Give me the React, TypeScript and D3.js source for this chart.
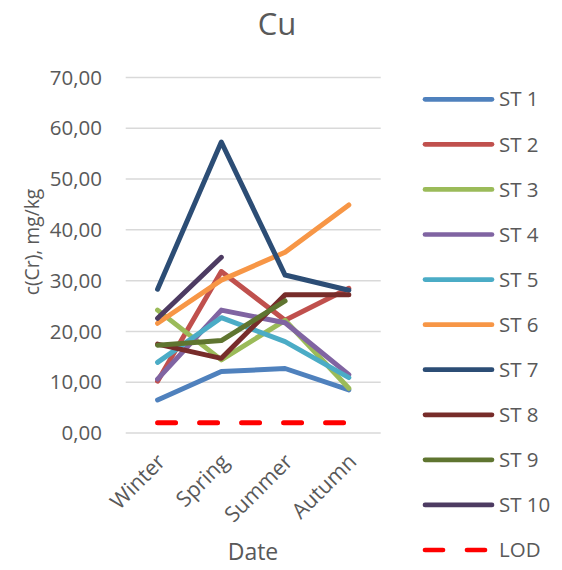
import React from "react";
import * as d3 from "d3";

const categories = ["Winter", "Spring", "Summer", "Autumn"];
const seriesNames = ["ST 1", "ST 2", "ST 3", "ST 4", "ST 5", "ST 6", "ST 7", "ST 8", "ST 9", "ST 10"];
const st1 = [6.5, 12.1, 12.7, 8.5];
const st2 = [10.2, 31.8, 22.2, 28.5];
const st3 = [24.2, 14.4, 22.2, 8.8];
const st4 = [10.6, 24.2, 21.7, 11.5];
const st5 = [13.9, 22.7, 18.0, 10.9];
const st6 = [21.6, 30.1, 35.6, 44.9];
const st7 = [28.3, 57.3, 31.1, 28.1];
const st8 = [17.5, 14.7, 27.2, 27.2];
const st9 = [17.3, 18.2, 26.0, null];
const st10 = [22.6, 34.6, null, null];
const lod = [2, 2, 2, 2];
const yTicks = [0, 10, 20, 30, 40, 50, 60, 70];
const colors = ["#4F81BD", "#C0504D", "#9BBB59", "#8064A2", "#4BACC6", "#F79646", "#2C4D75", "#772C2A", "#5F7530", "#4D3B62"];

const FONT = "'Open Sans', sans-serif";
const TXT = "#595959";

export default function App() {
  const left = 125.7, right = 380.7, top = 77.5, bottom = 433;
  const x = d3.scaleBand<string>().domain(categories).range([left, right]);
  const y = d3.scaleLinear().domain([0, 70]).range([bottom, top]);
  const cx = (c: string) => (x(c) as number) + x.bandwidth() / 2;
  const line = d3
    .line<number | null>()
    .defined((d) => d !== null)
    .x((_, i) => cx(categories[i]))
    .y((d) => y(d as number));
  const all = [st1, st2, st3, st4, st5, st6, st7, st8, st9, st10];
  const legX1 = 425, legX2 = 492, legY0 = 99.3, legStep = 45.07;
  return (
    <svg width={562} height={570} style={{ position: "absolute", left: 0, top: 0, background: "#fff" }}>
      <text x={277} y={35} textAnchor="middle" fontFamily={FONT} fontSize={31} fill={TXT}>Cu</text>
      {yTicks.map((t) => (
        <g key={t}>
          <line x1={left} x2={right} y1={y(t)} y2={y(t)} stroke="#d9d9d9" strokeWidth={1.5} />
          <text x={102} y={y(t)} dy="0.35em" textAnchor="end" fontFamily={FONT} fontSize={20.5} fill={TXT}>
            {d3.format(".2f")(t).replace(".", ",")}
          </text>
        </g>
      ))}
      <text transform={`translate(39,242) rotate(-90)`} textAnchor="middle" fontFamily={FONT} fontSize={19.3} fill={TXT}>c(Cr), mg/kg</text>
      {categories.map((c) => (
        <text key={c} transform={`translate(${cx(c) + 9},463) rotate(-45)`} textAnchor="end" fontFamily={FONT} fontSize={21.5} fill={TXT}>{c}</text>
      ))}
      <text x={253} y={560} textAnchor="middle" fontFamily={FONT} fontSize={23} fill={TXT}>Date</text>
      {all.map((s, i) => (
        <path key={i} d={line(s) || ""} fill="none" stroke={colors[i]} strokeWidth={5} strokeLinecap="round" strokeLinejoin="round" />
      ))}
      <path d={line(lod) || ""} fill="none" stroke="#FF0000" strokeWidth={5} strokeLinecap="round" strokeDasharray="18,24" />
      {seriesNames.map((n, i) => (
        <g key={n}>
          <line x1={legX1} x2={legX2} y1={legY0 + i * legStep} y2={legY0 + i * legStep} stroke={colors[i]} strokeWidth={4.7} strokeLinecap="round" />
          <text x={499} y={legY0 + i * legStep} dy="0.35em" fontFamily={FONT} fontSize={20.5} fill={TXT}>{n}</text>
        </g>
      ))}
      <line x1={legX1} x2={legX2} y1={legY0 + 10 * legStep} y2={legY0 + 10 * legStep} stroke="#FF0000" strokeWidth={4.7} strokeLinecap="round" strokeDasharray="18,24" />
      <text x={499} y={legY0 + 10 * legStep} dy="0.35em" fontFamily={FONT} fontSize={20.5} fill={TXT}>LOD</text>
    </svg>
  );
}
